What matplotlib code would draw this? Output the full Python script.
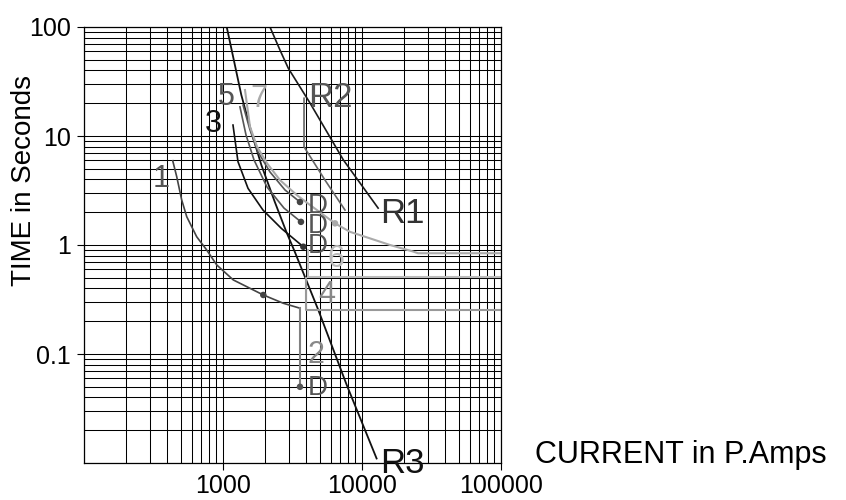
import numpy as np
import matplotlib
matplotlib.use("Agg")
from matplotlib import pyplot as plt, rcParams
from matplotlib.ticker import FixedLocator, LogLocator, NullFormatter

rcParams['font.family'] = ['Liberation Sans', 'DejaVu Sans']

# time-current curves: current (P.Amps), time (s)
r1_i = [2188, 2582, 2965, 4245, 7380, 13130]
r1_t = [100, 61.5, 41.8, 20.1, 6.03, 2.18]

r2_i = [3846, 3846, 3908, 5445, 7586]
r2_t = [22.2, 7.98, 7.7, 3.94, 2.09]

r3_i = [1069, 1361, 1607, 1897, 2366, 2870, 3297, 4870, 7800, 12800]
r3_t = [100, 23.8, 10.9, 5.42, 2.50, 1.32, 0.869, 0.254, 0.052, 0.011]

c1_i = [437, 467, 507, 551, 650, 767, 906, 1192, 1959, 2730, 3597]
c1_t = [5.93, 4.23, 2.59, 1.82, 1.19, 0.90, 0.656, 0.478, 0.348, 0.292, 0.263]

c2_i = [3597, 3597]
c2_t = [0.263, 0.05]

c3_i = [1186, 1288, 1521, 1950, 2642, 3802]
c3_t = [12.6, 5.81, 3.31, 2.09, 1.42, 0.964]

c4_i = [3943, 3943, 100000]
c4_t = [0.498, 0.254, 0.254]

c5_i = [1400, 1571, 1795, 2188, 2805, 3597]
c5_t = [19.2, 11.4, 7.13, 4.68, 3.20, 2.48]

# second dark curve next to 5, ends on the middle D
c5b_i = [1331, 1472, 1680, 2084, 2761, 3656]
c5b_t = [18.5, 10.2, 6.03, 3.40, 2.18, 1.63]

c6_i = [4130, 4130, 100000]
c6_t = [0.90, 0.51, 0.51]

c7_i = [1447, 1571, 1766, 2084, 2582, 3405, 4245, 6427, 8245, 11480, 15990, 23500, 25400, 100000]
c7_t = [26.4, 12.2, 7.98, 5.62, 3.94, 2.88, 2.33, 1.58, 1.32, 1.15, 1.0, 0.87, 0.84, 0.84]

# marked points
dot_i = [3597, 3656, 3802, 3597, 1959, 6427]
dot_t = [2.48, 1.63, 0.964, 0.05, 0.348, 1.58]
dot_c = ['#444444', '#444444', '#333333', '#555555', '#444444', '#aaaaaa']

# curve labels: text, current, time (left / baseline)
lab_txt = ['1', '2', '3', '4', '5', '6', '7', 'R1', 'R2', 'R3', 'D', 'D', 'D', 'D']
lab_i = [315, 4043, 746, 4853, 925, 5720, 1574, 13540, 4110, 13540, 4110, 4110, 4110, 4110]
lab_t = [3.40, 0.0826, 10.9, 0.294, 19.2, 0.628, 18.5, 1.59, 18.5, 0.0081, 1.97, 1.29, 0.845, 0.042]
lab_c = ['#555555', '#888888', '#111111', '#888888', '#555555', '#bbbbbb', '#aaaaaa',
         '#333333', '#555555', '#111111', '#555555', '#555555', '#555555', '#555555']
lab_s = [22, 22, 22, 22, 22, 22, 22, 25, 25, 25, 20, 20, 20, 20]

fig = plt.figure(figsize=(8.46, 5.0), dpi=100)
ax = fig.add_axes([83.7 / 846, 37 / 500, 417 / 846, 436 / 500])
ax.set_xscale('log')
ax.set_yscale('log')
ax.set_xlim(100, 100000)
ax.set_ylim(0.01, 100)

ax.xaxis.set_major_locator(FixedLocator([1000, 10000, 100000]))
ax.yaxis.set_major_locator(FixedLocator([0.1, 1, 10, 100]))
ax.set_xticklabels(['1000', '10000', '100000'])
ax.set_yticklabels(['0.1', '1', '10', '100'])
for a in (ax.xaxis, ax.yaxis):
    a.set_minor_locator(LogLocator(base=10, subs=np.arange(1, 10), numticks=20))
    a.set_minor_formatter(NullFormatter())
ax.tick_params(which='major', direction='out', length=5, width=0.8, labelsize=18, colors='black')
ax.tick_params(axis='x', which='major', pad=3)
ax.tick_params(axis='y', which='major', pad=4)
ax.tick_params(which='minor', length=0)
ax.grid(True, which='both', color='black', lw=0.75)
ax.set_axisbelow(True)
for s in ax.spines.values():
    s.set_linewidth(0.9)

ax.plot(r1_i, r1_t, color='#1a1a1a', lw=1.2)
ax.plot(r2_i, r2_t, color='#666666', lw=1.2)
ax.plot(r3_i, r3_t, color='#111111', lw=1.3)
ax.plot(c1_i, c1_t, color='#444444', lw=1.2)
ax.plot(c2_i, c2_t, color='#808080', lw=1.5)
ax.plot(c3_i, c3_t, color='#111111', lw=1.2)
ax.plot(c4_i, c4_t, color='#999999', lw=1.5)
ax.plot(c5_i, c5_t, color='#555555', lw=1.2)
ax.plot(c5b_i, c5b_t, color='#555555', lw=1.2)
ax.plot(c6_i, c6_t, color='#bbbbbb', lw=1.5)
ax.plot(c7_i, c7_t, color='#aaaaaa', lw=1.5)
ax.scatter(dot_i, dot_t, s=22, c=dot_c, zorder=5, linewidths=0)

for t, xi, yi, c, s in zip(lab_txt, lab_i, lab_t, lab_c, lab_s):
    ax.text(xi, yi, t, color=c, fontsize=s, ha='left', va='baseline', zorder=6)

fig.text(24 / 846, 1 - 180 / 500, 'TIME in Seconds', rotation=90,
         ha='center', va='center', fontsize=20)
fig.text(535 / 846, 1 - 463 / 500, 'CURRENT in P.Amps', ha='left', va='baseline', fontsize=22)

fig.savefig('out.png', dpi=100)
